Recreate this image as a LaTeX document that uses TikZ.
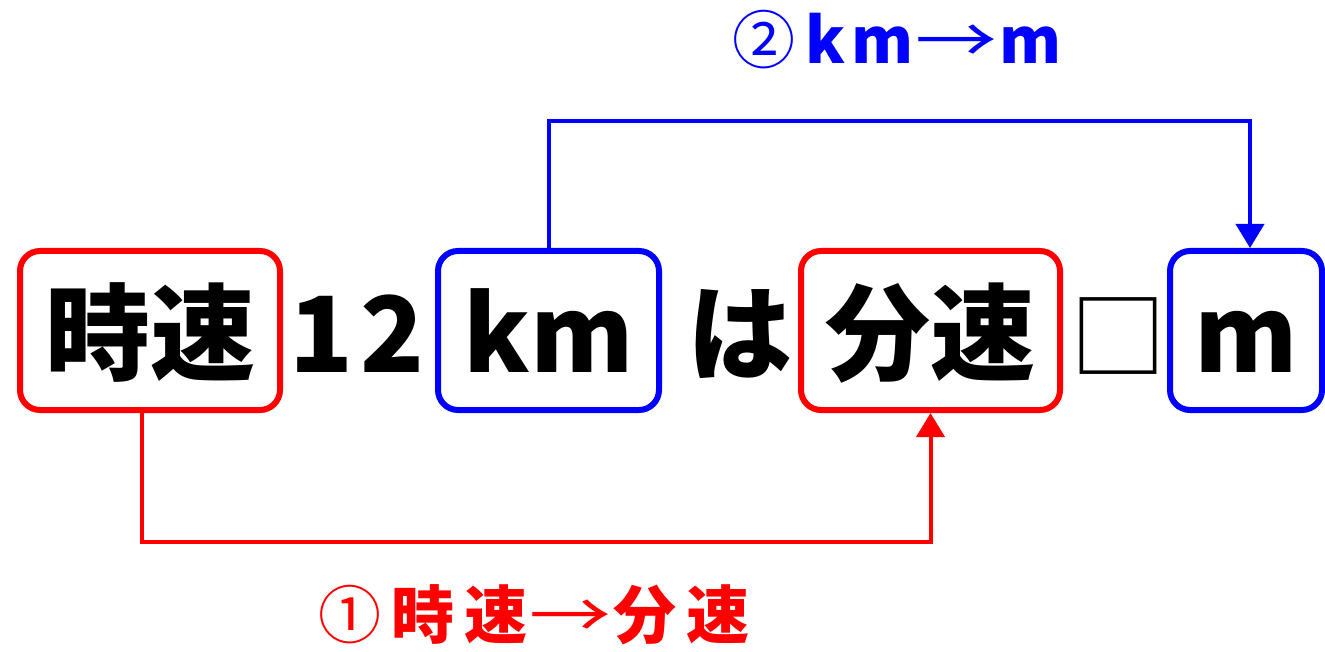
\documentclass[tikz,border=0pt]{standalone}
\usepackage{fontspec}
\usepackage{graphicx}
\newfontfamily\jp{Noto Sans CJK JP}
\usetikzlibrary{arrows.meta}
\definecolor{myred}{RGB}{255,0,0}
\definecolor{myblue}{RGB}{0,0,255}
\tikzset{
  box/.style={draw, line width=6pt, rounded corners=20pt, minimum height=159pt,
    inner sep=0pt, text height=83pt, text depth=0pt, font=\jp\bfseries\fontsize{105}{110}\selectfont},
  rbox/.style={box, draw=myred},
  bbox/.style={box, draw=myblue},
  plain/.style={inner sep=0pt, text height=83pt, text depth=0pt, font=\jp\bfseries\fontsize{105}{110}\selectfont},
  rline/.style={draw=myred, line width=4pt},
  bline/.style={draw=myblue, line width=4pt},
  tipstyle/.style={-{Triangle[width=28pt,length=24pt]}},
  lab/.style={inner sep=0pt, font=\jp\bfseries\fontsize{63}{70}\selectfont},
}
\newcommand{\gp}{\hspace{10pt}}
\newcommand{\longarr}{\scalebox{1.3}[1]{\mdseries →}}
\begin{document}
\begin{tikzpicture}[x=1pt,y=-1pt]
\useasboundingbox (0,0) rectangle (1325,652);
\node[rbox, minimum width=260pt] (A) at (150,330.5) {時速};
\node[plain] (n12) at (357,330.5) {1\hspace{8pt}2};
\node[bbox, minimum width=221pt] (B) at (548.5,330.5) {km};
\node[plain] (ha) at (740,330.5) {は};
\node[plain, font=\jp\fontsize{96}{100}\selectfont] (sq) at (1118.5,330.5) {□};
\node[bbox, minimum width=152pt] (D) at (1246,330.5) {m};
\node[rbox, minimum width=259pt] (C) at (930.5,330.5) {分速};
\coordinate (r1) at (142,542);
\coordinate (b2) at (1250,121);
\draw[rline, tipstyle] (A.south -| r1) -- (r1) -| (C.south);
\draw[bline, tipstyle] (B.north) |- (b2) -- (b2 |- D.north);
\node[lab, text=myred] (L1) at (534,615) {{\mdseries ①}\gp 時\gp 速\hspace{2pt}\longarr\hspace{2pt}分\gp 速};
\node[lab, text=myblue] (L2) at (897,40) {{\mdseries ②}\gp k\hspace{6pt}m\hspace{2pt}\longarr\hspace{2pt}m};
\end{tikzpicture}
\end{document}
